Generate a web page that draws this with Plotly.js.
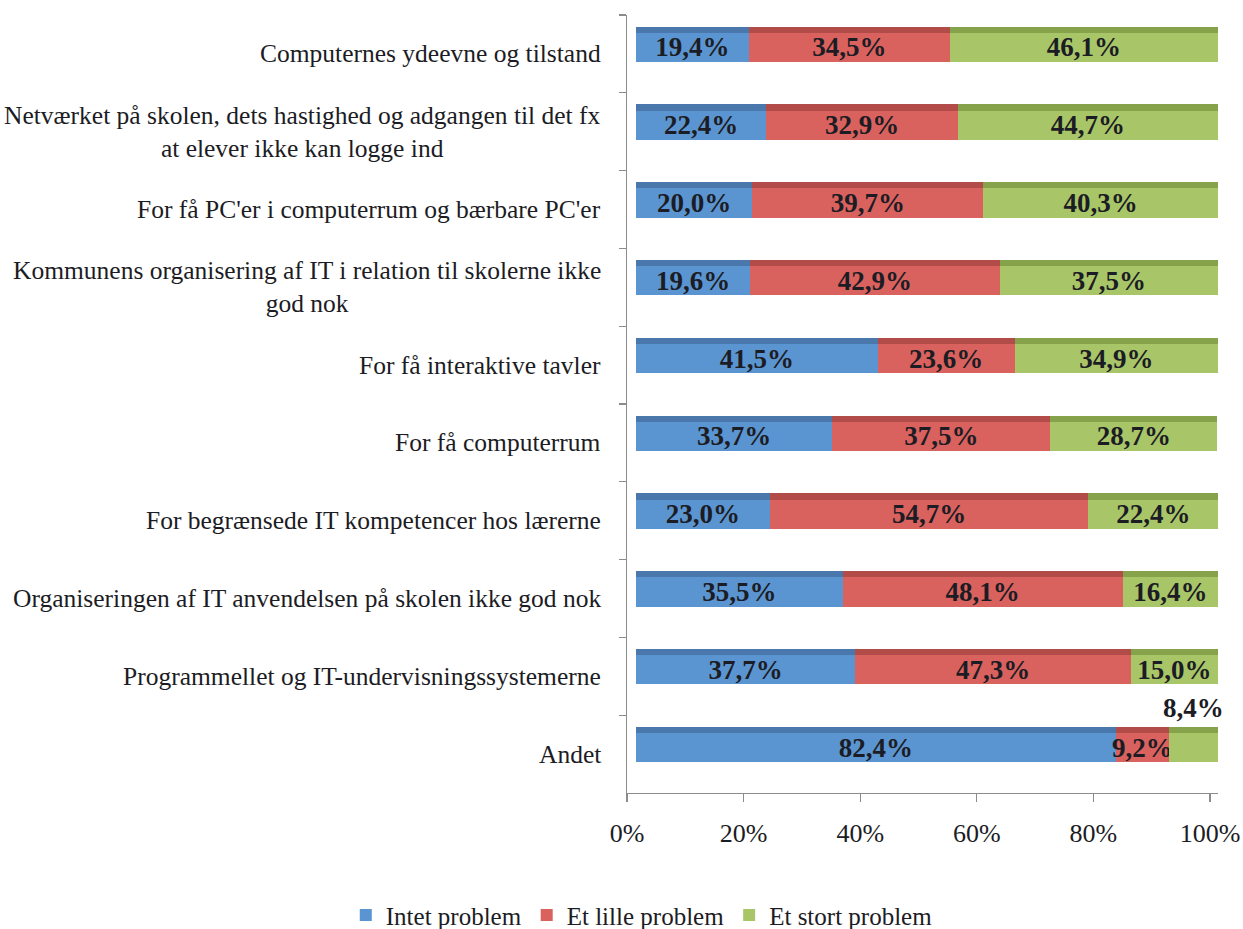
<!DOCTYPE html>
<html>
<head>
<meta charset="utf-8">
<script src="https://cdn.plot.ly/plotly-3.0.1.min.js"></script>
<style>
html,body{margin:0;padding:0;background:#fff;}
#chart{width:1243px;height:929px;}
</style>
</head>
<body>
<div id="chart"></div>
<script>
var categories = [
  "Computernes ydeevne og tilstand",
  "Netværket på skolen, dets hastighed og adgangen til det fx<br>at elever ikke kan logge ind",
  "For få PC'er i computerrum og bærbare PC'er",
  "Kommunens organisering af IT i relation til skolerne ikke<br>god nok",
  "For få interaktive tavler",
  "For få computerrum",
  "For begrænsede IT kompetencer hos lærerne",
  "Organiseringen af IT anvendelsen på skolen ikke god nok",
  "Programmellet og IT-undervisningssystemerne",
  "Andet"
];
var intetProblem = [19.4, 22.4, 20.0, 19.6, 41.5, 33.7, 23.0, 35.5, 37.7, 82.4];
var etLilleProblem = [34.5, 32.9, 39.7, 42.9, 23.6, 37.5, 54.7, 48.1, 47.3, 9.2];
var etStortProblem = [46.1, 44.7, 40.3, 37.5, 34.9, 28.7, 22.4, 16.4, 15.0, 8.4];
var seriesNames = ["Intet problem", "Et lille problem", "Et stort problem"];
var xTickVals = [0, 20, 40, 60, 80, 100];
var xTickText = ["0%", "20%", "40%", "60%", "80%", "100%"];

var frontColors = ["#5b95d1", "#d9625e", "#a8c668"];
var topColors = ["#4a78ad", "#b24c49", "#86a24b"];
var serif = "Liberation Serif, Times New Roman, serif";
var txtColor = "#1c1c24";
var axisColor = "#8c8c8c";

function fmt(v){ return v.toFixed(1).replace('.', ',') + '%'; }

var seriesValues = [intetProblem, etLilleProblem, etStortProblem];
var traces = [];
// darker top faces (pseudo-3D), on their own overlaid axis so they stack separately
seriesValues.forEach(function(vals, i){
  traces.push({
    type: 'bar', orientation: 'h', x: vals, y: categories,
    width: 0.08, offset: -0.35,
    marker: {color: topColors[i], line: {width: 0}},
    showlegend: false, hoverinfo: 'skip', xaxis: 'x3', yaxis: 'y'
  });
});
seriesValues.forEach(function(vals, i){
  var txt = vals.map(function(v){
    if (i === 2 && v < 10) return '';
    return fmt(v);
  });
  traces.push({
    type: 'bar', orientation: 'h', x: vals, y: categories,
    name: seriesNames[i],
    width: 0.375, offset: -0.27,
    marker: {color: frontColors[i], line: {width: 0}},
    text: txt, textposition: 'inside', insidetextanchor: 'middle',
    constraintext: 'none',
    textfont: {family: serif, size: 27, color: txtColor, weight: 'bold'},
    xaxis: 'x', yaxis: 'y'
  });
});
// carrier for the tick axis
traces.push({type: 'scatter', mode: 'markers', x: [], y: [], xaxis: 'x2', yaxis: 'y',
  showlegend: false, hoverinfo: 'skip'});

var annotations = [];
categories.forEach(function(c){
  annotations.push({
    xref: 'paper', yref: 'y', x: -0.04, y: c, xanchor: 'right', yanchor: 'middle',
    text: c, showarrow: false, align: 'center',
    font: {family: serif, size: 25.5, color: txtColor}
  });
});
etStortProblem.forEach(function(v, k){
  if (v < 10) {
    annotations.push({
      xref: 'x', yref: 'y',
      x: intetProblem[k] + etLilleProblem[k] + v / 2, y: categories[k],
      yshift: 46, text: '<b>' + fmt(v) + '</b>', showarrow: false,
      font: {family: serif, size: 27, color: txtColor}
    });
  }
});

var layout = {
  width: 1243, height: 929,
  margin: {l: 627, r: 25, t: 15, b: 136, autoexpand: false},
  paper_bgcolor: '#fff', plot_bgcolor: '#fff',
  barmode: 'stack',
  showlegend: true,
  legend: {orientation: 'h', x: 0.025, xanchor: 'center', y: -0.157, yanchor: 'middle',
           font: {family: serif, size: 25, color: txtColor}, itemwidth: 30,
           traceorder: 'normal', tracegroupgap: 0},
  xaxis: {range: [-1.546, 100], showgrid: false, zeroline: false, showline: false,
          showticklabels: false, ticks: '', fixedrange: true},
  xaxis3: {range: [-1.546, 100], overlaying: 'x', anchor: 'y', showgrid: false, zeroline: false,
          showline: false, showticklabels: false, ticks: ''},
  xaxis2: {range: [0, 101.37], overlaying: 'x', anchor: 'y', side: 'bottom',
          tickvals: xTickVals, ticktext: xTickText, showgrid: false,
          zeroline: false, showline: true, linecolor: axisColor, linewidth: 1.3,
          ticks: 'outside', ticklen: 8, tickcolor: axisColor, tickwidth: 1.3,
          ticklabelstandoff: 8,
          tickfont: {family: serif, size: 26, color: txtColor}},
  yaxis: {type: 'category', range: [9.5, -0.5], showticklabels: false,
          showline: true, linecolor: axisColor, linewidth: 1.3,
          ticks: 'outside', tickson: 'boundaries', ticklen: 7, tickcolor: axisColor, tickwidth: 1.3,
          showgrid: false, zeroline: false},
  annotations: annotations
};
Plotly.newPlot('chart', traces, layout, {staticPlot: true});
</script>
</body>
</html>
